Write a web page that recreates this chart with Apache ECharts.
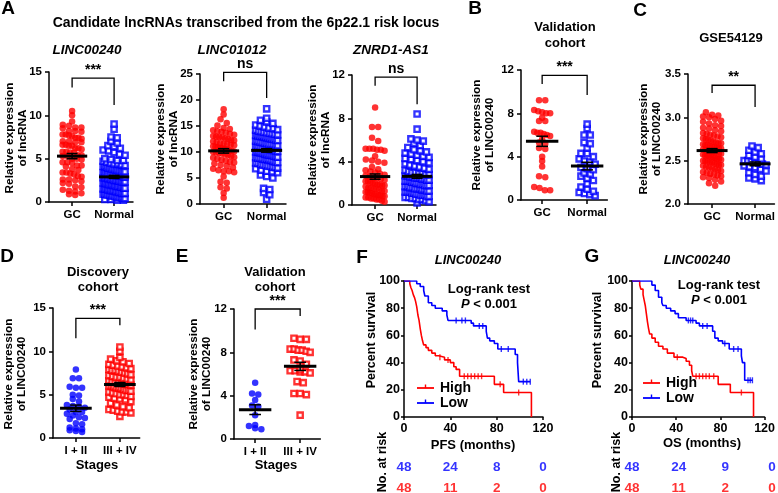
<!DOCTYPE html>
<html>
<head>
<meta charset="utf-8">
<script src="https://cdn.jsdelivr.net/npm/echarts@6/dist/echarts.min.js"></script>
<style>
  html, body { margin: 0; padding: 0; background: #fff; }
  #chart { width: 778px; height: 493px; }
</style>
</head>
<body>
<div id="chart"></div>
<script>
// ---------- data ----------
const catsTumor = ["GC", "Normal"];
const catsStage = ["I + II", "III + IV"];

// A: LINC00240
const a1Gc = [10.5, 10.0, 9.3, 8.9, 8.8, 8.6, 8.6, 8.5, 8.2, 8.2, 8.1, 7.8, 7.8, 7.7, 7.6, 7.4, 7.4, 7.3, 7.0, 7.0, 6.9, 6.9, 6.6, 6.6, 6.5, 6.5, 6.2, 6.2, 6.1, 5.8, 5.8, 5.7, 5.7, 5.4, 5.4, 5.3, 5.3, 5.0, 5.0, 4.9, 4.6, 4.6, 4.5, 4.2, 4.2, 4.1, 3.8, 3.7, 3.4, 3.4, 3.3, 3.2, 3.0, 2.9, 2.6, 2.6, 2.5, 2.4, 2.2, 2.1, 1.8, 1.7, 1.4, 1.3, 1.2, 1.0, 0.9, 0.8];
const a1Normal = [9.0, 8.4, 7.5, 7.4, 7.0, 6.8, 6.5, 6.4, 6.2, 6.0, 5.9, 5.7, 5.5, 5.4,
  5.0, 4.9, 4.8, 4.8, 4.7, 4.6, 4.5, 4.4, 4.4, 4.3, 4.2, 4.1, 4.1, 4.0,
  3.9, 3.9, 3.8, 3.8, 3.7, 3.7, 3.6, 3.6, 3.5, 3.5, 3.5, 3.4, 3.4, 3.3, 3.3, 3.2, 3.2, 3.2, 3.1, 3.1, 3.0, 3.0, 3.0, 3.0,
  2.9, 2.9, 2.8, 2.8, 2.8, 2.7, 2.7, 2.6, 2.6, 2.5, 2.5, 2.5, 2.4, 2.4, 2.3, 2.3, 2.3, 2.2, 2.2, 2.1, 2.1, 2.0, 2.0, 2.0,
  1.9, 1.9, 1.8, 1.8, 1.8, 1.7, 1.7, 1.6, 1.6, 1.5, 1.5, 1.5, 1.4, 1.4, 1.3, 1.3, 1.3, 1.2, 1.2, 1.1, 1.1, 1.0, 1.0, 1.0,
  0.9, 0.9, 0.8, 0.8, 0.8, 0.7, 0.7, 0.6, 0.6, 0.5, 0.5, 0.5, 0.4, 0.4, 0.3, 0.3, 0.2, 0.2];
const a1Bracket = [13.2, 14.3, 11.2];

// A: LINC01012
const a2Gc = [18.2, 17.2, 16.3, 15.6, 15.1, 14.6, 14.4, 14.2, 14.0, 13.9, 13.7, 13.5, 13.3, 13.1, 13.0, 12.9, 12.8, 12.6, 12.5, 12.3, 12.2, 12.0, 11.9, 11.7, 11.6, 11.5, 11.4, 11.3, 11.1, 11.0, 10.9, 10.8, 10.7, 10.6, 10.5, 10.3, 10.2, 10.1, 10.0, 9.9, 9.8, 9.7, 9.5, 9.4, 9.2, 9.0, 8.9, 8.7, 8.5, 8.3, 8.1, 8.0, 7.8, 7.5, 7.3, 7.0, 6.8, 6.5, 6.3, 6.3, 6.1, 5.3, 4.3, 4.1, 3.2, 3.0, 2.1, 1.2];
const a2Normal = [18.3, 16.5, 16.1, 15.8, 15.5, 15.2, 15.0, 14.8, 14.6, 14.5,
  14.3, 14.2, 14.0, 13.9, 13.8, 13.7, 13.6, 13.5, 13.4, 13.3, 13.2, 13.1, 13.0, 13.0,
  12.9, 12.8, 12.7, 12.6, 12.5, 12.4, 12.3, 12.2, 12.1, 12.0, 11.9, 11.8, 11.7, 11.6, 11.5, 11.5,
  11.4, 11.3, 11.2, 11.1, 11.0, 10.9, 10.8, 10.7, 10.6, 10.5, 10.4, 10.3, 10.2, 10.1, 10.0, 10.0,
  9.9, 9.8, 9.7, 9.6, 9.5, 9.4, 9.4, 9.3, 9.2, 9.1, 9.0, 8.9, 8.8, 8.8, 8.7, 8.6, 8.6, 8.5,
  8.4, 8.2, 8.1, 8.0, 7.9, 7.8, 7.6, 7.5, 7.4, 7.3, 7.2, 7.1, 7.0, 6.9,
  6.8, 6.5, 6.3, 6.2, 6.0, 5.6, 5.3, 5.0, 3.0, 2.8, 2.2, 1.8, 0.9];
const a2Bracket = [23.6, 25.3, 20.4];

// A: ZNRD1-AS1
const a3Gc = [9.0, 7.2, 7.2, 6.2, 5.9, 5.2, 5.2, 5.2, 5.1, 5.1, 5.0, 4.5, 4.2, 4.1, 4.0, 3.9, 3.5, 3.3, 3.2, 3.1, 3.0, 2.9, 2.8, 2.7, 2.6, 2.5, 2.5, 2.4, 2.3, 2.2, 2.2, 2.1, 2.0, 2.0, 1.9, 1.9, 1.8, 1.8, 1.7, 1.6, 1.6, 1.5, 1.5, 1.4, 1.3, 1.3, 1.2, 1.2, 1.1, 1.1, 1.0, 1.0, 0.9, 0.9, 0.8, 0.8, 0.7, 0.7, 0.6, 0.6, 0.5, 0.5, 0.4, 0.3];
const a3Normal = [8.4, 7.0, 6.1, 6.0, 5.9, 5.7, 5.5, 5.3, 5.1, 5.0, 4.9, 4.8, 4.7, 4.6, 4.5,
  4.4, 4.3, 4.2, 4.1, 4.0, 3.9, 3.8, 3.7, 3.6, 3.5, 3.4, 3.3, 3.2, 3.1, 3.0, 3.0,
  2.9, 2.9, 2.8, 2.8, 2.7, 2.7, 2.6, 2.6, 2.5, 2.5, 2.5, 2.4, 2.4, 2.3, 2.3, 2.2, 2.2, 2.2, 2.1, 2.1, 2.0, 2.0,
  1.9, 1.9, 1.8, 1.8, 1.8, 1.7, 1.7, 1.6, 1.6, 1.5, 1.5, 1.5, 1.4, 1.4, 1.3, 1.3, 1.2, 1.2, 1.2, 1.1, 1.1, 1.0, 1.0,
  0.9, 0.9, 0.9, 0.8, 0.8, 0.7, 0.7, 0.6, 0.6, 0.5, 0.5, 0.4, 0.3, 0.2];
const a3Bracket = [11.0, 11.8, 9.3];

// B: validation cohort
const bGc = [9.2, 9.2, 8.3, 8.2, 8.1, 8.0, 8.0, 7.6, 7.3, 7.3, 6.3, 6.2, 6.2, 6.1, 6.0, 5.9, 5.6, 5.3, 5.2, 4.8, 4.7, 4.0, 3.6, 3.1, 2.2, 2.1, 1.2, 1.1, 0.9, 0.9];
const bNormal = [7.0, 6.6, 6.0, 6.0, 5.3, 5.2, 4.8, 4.3, 4.3, 4.0, 3.8, 3.6, 3.5, 3.3, 3.0, 2.9, 2.8, 2.5, 2.4, 2.2, 2.0, 1.8, 1.5, 1.2, 1.0, 0.8, 0.7, 0.6, 0.5, 0.4];
const bBracket = [10.7, 11.5, 9.7];

// C: GSE54129
const cGc = [3.06, 3.03, 3.02, 3.01, 3.00, 2.98, 2.96, 2.95, 2.93, 2.91, 2.90, 2.88, 2.87, 2.85, 2.84, 2.82, 2.81, 2.80, 2.79, 2.78, 2.77, 2.76, 2.75, 2.74, 2.73, 2.72, 2.71, 2.70, 2.70, 2.69, 2.68, 2.68, 2.67, 2.66, 2.66, 2.65, 2.64, 2.64, 2.63, 2.62, 2.62, 2.61, 2.60, 2.60, 2.59, 2.58, 2.58, 2.57, 2.56, 2.56, 2.55, 2.54, 2.54, 2.53, 2.52, 2.52, 2.51, 2.50, 2.50, 2.49, 2.48, 2.48, 2.47, 2.46, 2.45, 2.45, 2.44, 2.43, 2.42, 2.41, 2.40, 2.39, 2.38, 2.37, 2.36, 2.35, 2.34, 2.33, 2.32, 2.31, 2.30, 2.28, 2.26, 2.24, 2.21];
const cNormal = [2.67, 2.65, 2.62, 2.60, 2.58, 2.56, 2.54, 2.52, 2.50, 2.50, 2.49, 2.48, 2.47, 2.46, 2.45, 2.44, 2.43, 2.42, 2.40, 2.38, 2.36, 2.34, 2.32, 2.30, 2.29, 2.27];
const cBracket = [3.28, 3.37, 3.12];

// D: discovery cohort by stage
const dEarly = [7.9, 6.9, 6.9, 5.9, 5.8, 5.8, 5.0, 4.9, 4.5, 4.2, 3.8, 3.7, 3.6, 3.5, 3.3, 3.0, 3.0, 2.8, 2.6, 2.4, 2.3, 2.2, 1.7, 1.6, 1.2, 1.1, 1.0, 0.9, 0.8, 0.7];
const dLate = [10.5, 10.0, 9.3, 9.1, 8.9, 8.8, 8.6, 8.5, 8.4, 8.3, 8.2, 8.1, 8.0, 7.9, 7.8, 7.8, 7.7, 7.6, 7.5, 7.4, 7.3, 7.2, 7.1, 7.0, 7.0, 6.9, 6.8, 6.7, 6.6, 6.5, 6.5, 6.4, 6.3, 6.2, 6.2, 6.1, 6.0, 6.0, 5.9, 5.8, 5.8, 5.7, 5.6, 5.5, 5.5, 5.4, 5.3, 5.2, 5.1, 5.0, 5.0, 4.9, 4.8, 4.7, 4.6, 4.5, 4.4, 4.2, 4.0, 3.8, 3.6, 3.5, 3.3, 3.2, 3.1, 3.0, 3.0, 2.9, 2.5];
const dBracket = [11.5, 13.8, 13.0];

// E: validation cohort by stage
const eEarly = [5.2, 4.2, 4.1, 3.6, 3.1, 3.0, 2.2, 1.3, 1.2, 1.0, 0.9];
const eLate = [9.3, 9.2, 9.2, 8.3, 8.3, 8.2, 8.2, 8.1, 8.0, 7.3, 7.2, 6.9, 6.4, 6.3, 6.3, 6.2, 6.2, 6.1, 5.3, 5.2, 4.2, 4.2, 4.1, 2.2];
const eBracket = [10.1, 12.0, 11.35];

// F: PFS Kaplan-Meier [months, % survival]
const fHigh = [[0,100],[5,98],[6,95],[7,93],[8,90],[9,88],[10,85],[11,81],[12,75],[13,71],[14,65],[15,60],[16,56],[17,53],[19,51],[21,49],[24,47],[27,45],[30,44],[35,42],[40,40],[43,37],[45,35],[48,30],[78,24],[86,18],[110,0]];
const fLow = [[0,100],[11,98],[14,96],[17,93],[18,89],[21,84],[24,82],[27,80],[33,78],[37,75],[38,71],[58,69],[60,67],[71,63],[72,58],[74,56],[78,54],[81,50],[96,46],[98,40],[99,26],[109,26]];
const fHighCensor = [[31,44],[38,42],[52,30],[55,30],[58,30],[61,30],[64,30],[67,30],[83,24],[99,18]];
const fLowCensor = [[45,71],[50,71],[53,71],[65,67],[68,67],[84,50],[90,50],[103,26],[106,26],[109,26]];

// G: OS Kaplan-Meier
const gHigh = [[0,100],[7,97],[8,94],[10,90],[11,86],[12,82],[13,76],[14,70],[15,65],[16,61],[18,58],[21,55],[24,52],[28,50],[32,47],[38,44],[46,43],[49,41],[52,38],[54,34],[55,30],[78,24],[89,18],[110,0]];
const gLow = [[0,100],[18,97],[21,93],[24,88],[27,84],[28,82],[31,80],[35,78],[39,76],[42,73],[49,71],[58,69],[61,67],[73,63],[75,58],[78,56],[82,54],[88,50],[99,45],[100,40],[102,27],[109,27]];
const gHighCensor = [[41,44],[58,30],[61,30],[64,30],[67,30],[70,30],[74,30],[99,18]];
const gLowCensor = [[51,71],[53,71],[55,71],[64,67],[68,67],[84,54],[92,50],[96,50],[105,27],[107,27],[109,27]];

// numbers at risk
const riskTimes = [0, 40, 80, 120];
const fRiskLow = [48, 24, 8, 0];
const fRiskHigh = [48, 11, 2, 0];
const gRiskLow = [48, 24, 9, 0];
const gRiskHigh = [48, 11, 2, 0];

// ---------- build ----------
const RED = "#ff0000";
const BLUE = "#0000ff";
const FONT = "Liberation Sans, Arial, sans-serif";

const grids = [], xAxes = [], yAxes = [], series = [];

function mean(a) { return a.reduce((s, v) => s + v, 0) / a.length; }
function sem(a) {
  const m = mean(a);
  const sd = Math.sqrt(a.reduce((s, v) => s + (v - m) * (v - m), 0) / (a.length - 1));
  return sd / Math.sqrt(a.length);
}

// spread points of similar value side by side (scatter dot plot layout)
function swarm(values, center, pxY, pxX, rowPx, stepPx, maxHalfPx) {
  const rows = {};
  values.forEach(v => {
    const r = Math.round(v * pxY / rowPx);
    (rows[r] = rows[r] || []).push(v);
  });
  const out = [];
  Object.keys(rows).forEach(k => {
    const list = rows[k];
    const n = list.length;
    let step = stepPx;
    if (n > 1 && (n - 1) * step / 2 > maxHalfPx) step = 2 * maxHalfPx / (n - 1);
    list.forEach((v, i) => out.push([center + (i - (n - 1) / 2) * step / pxX, v]));
  });
  return out;
}

const axisLineStyle = { color: "#000", width: 1.5 };
const labelStyle = { color: "#000", fontFamily: FONT, fontWeight: "bold", fontSize: 11.5 };

function addDotPanel(p) {
  const idx = grids.length;
  const w = (p.xmax - p.xmin) * p.unit;
  grids.push({ left: p.left, top: p.top, width: w, height: p.h });
  xAxes.push({
    gridIndex: idx, type: "value", min: p.xmin, max: p.xmax,
    splitLine: { show: false },
    axisLine: { show: true, onZero: false, lineStyle: axisLineStyle },
    axisTick: { show: true, customValues: [1, 2], length: 4, lineStyle: axisLineStyle },
    axisLabel: Object.assign({ customValues: [1, 2], margin: 7,
      formatter: v => p.cats[Math.round(v) - 1] || "" }, labelStyle)
  });
  yAxes.push({
    gridIndex: idx, type: "value", min: p.ymin, max: p.ymax, interval: p.step,
    splitLine: { show: false },
    axisLine: { show: true, onZero: false, lineStyle: axisLineStyle },
    axisTick: { show: true, length: 4, lineStyle: axisLineStyle },
    axisLabel: Object.assign({ margin: 7, formatter: p.fmt || (v => String(v)) }, labelStyle)
  });
  const pxY = p.h / (p.ymax - p.ymin);
  p.groups.forEach((vals, j) => {
    const box = p.shapes[j] === "box";
    series.push({
      type: "scatter", xAxisIndex: idx, yAxisIndex: idx, silent: true,
      data: swarm(vals, j + 1, pxY, p.unit, 5.5, 6.2, p.halves[j]),
      symbol: box ? "rect" : "circle",
      symbolSize: box ? 5.3 : 6.5,
      itemStyle: box ? { color: "#fff", borderColor: p.colors[j], borderWidth: 2.3 }
                     : { color: p.colors[j] }
    });
  });
  // mean with SEM
  series.push({
    type: "custom", xAxisIndex: idx, yAxisIndex: idx, silent: true, z: 5,
    data: p.groups.map((g, j) => [j + 1, mean(g), sem(g)]),
    renderItem: (params, api) => {
      const c = api.value(0), m = api.value(1), s = api.value(2);
      const seg = (x1, y1, x2, y2, lw) => {
        const a = api.coord([x1, y1]), b = api.coord([x2, y2]);
        return { type: "line", shape: { x1: a[0], y1: a[1], x2: b[0], y2: b[1] },
          style: { stroke: "#000", lineWidth: lw } };
      };
      return { type: "group", children: [
        seg(c - 0.36, m, c + 0.36, m, 3),
        seg(c, m - s, c, m + s, 1.5),
        seg(c - 0.13, m + s, c + 0.13, m + s, 1.5),
        seg(c - 0.13, m - s, c + 0.13, m - s, 1.5)
      ] };
    }
  });
  // significance bracket
  series.push({
    type: "custom", xAxisIndex: idx, yAxisIndex: idx, silent: true, z: 6,
    data: [[p.bracket[0], p.bracket[1], p.bracket[2]]],
    renderItem: (params, api) => {
      const l = api.coord([1, api.value(0)]), tl = api.coord([1, api.value(1)]);
      const tr = api.coord([2, api.value(1)]), r = api.coord([2, api.value(2)]);
      return { type: "group", children: [
        { type: "polyline", shape: { points: [l, tl, tr, r] },
          style: { stroke: "#000", lineWidth: 1.3, fill: null } },
        { type: "text", x: (tl[0] + tr[0]) / 2, y: tl[1] - 1,
          style: { text: p.sig, fill: "#000", fontFamily: FONT, fontWeight: "bold",
            fontSize: 14, align: "center", verticalAlign: "bottom",
            textAlign: "center", textVerticalAlign: "bottom" } }
      ] };
    }
  });
}

function addKmPanel(p) {
  const idx = grids.length;
  grids.push({ left: p.left, top: p.top, width: p.w, height: p.h });
  const kmLabel = { color: "#000", fontFamily: FONT, fontWeight: "bold", fontSize: 12.5 };
  xAxes.push({
    gridIndex: idx, type: "value", min: 0, max: 120, interval: 40,
    splitLine: { show: false },
    axisLine: { show: true, lineStyle: axisLineStyle },
    axisTick: { show: true, length: 3, lineStyle: axisLineStyle },
    axisLabel: Object.assign({ margin: 5 }, kmLabel)
  });
  yAxes.push({
    gridIndex: idx, type: "value", min: 0, max: 100, interval: 20,
    splitLine: { show: false },
    axisLine: { show: true, lineStyle: axisLineStyle },
    axisTick: { show: true, length: 3, lineStyle: axisLineStyle },
    axisLabel: Object.assign({ margin: 4 }, kmLabel)
  });
  [[p.high, RED], [p.low, BLUE]].forEach(([d, col]) => {
    series.push({ type: "line", xAxisIndex: idx, yAxisIndex: idx, step: "end", data: d,
      showSymbol: false, silent: true, lineStyle: { color: col, width: 1.6 }, itemStyle: { color: col } });
  });
  [[p.highCensor, RED], [p.lowCensor, BLUE]].forEach(([d, col]) => {
    series.push({ type: "scatter", xAxisIndex: idx, yAxisIndex: idx, data: d, silent: true,
      symbol: "rect", symbolSize: [1.4, 6], itemStyle: { color: col } });
  });
  // numbers at risk table, on its own hidden grid sharing the time scale
  const r = grids.length;
  grids.push({ left: p.left, top: p.riskTop, width: p.w, height: 21 });
  xAxes.push({ gridIndex: r, type: "value", min: 0, max: 120, show: false });
  yAxes.push({ gridIndex: r, type: "value", min: 0, max: 1, show: false });
  [[p.riskLow, 1, BLUE], [p.riskHigh, 0, RED]].forEach(([vals, row, col]) => {
    series.push({
      type: "scatter", xAxisIndex: r, yAxisIndex: r, silent: true,
      data: riskTimes.map((t, i) => [t, row, vals[i]]),
      symbolSize: 1, itemStyle: { color: "rgba(0,0,0,0)" },
      label: { show: true, position: "inside", formatter: d => d.value[2],
        color: col, fontFamily: FONT, fontWeight: "bold", fontSize: 13.5 }
    });
  });
}

addDotPanel({ left: 49, top: 72, h: 130, unit: 42, xmin: 0.45, xmax: 2.45, ymin: 0, ymax: 15, step: 5,
  cats: catsTumor, groups: [a1Gc, a1Normal], shapes: ["dot", "box"], colors: [RED, BLUE], halves: [9.5, 11], bracket: a1Bracket, sig: "***" });
addDotPanel({ left: 200, top: 74, h: 130, unit: 43, xmin: 0.45, xmax: 2.45, ymin: 0, ymax: 25, step: 5,
  cats: catsTumor, groups: [a2Gc, a2Normal], shapes: ["dot", "box"], colors: [RED, BLUE], halves: [10.5, 11], bracket: a2Bracket, sig: "ns" });
addDotPanel({ left: 352, top: 75, h: 130, unit: 42, xmin: 0.45, xmax: 2.45, ymin: 0, ymax: 12, step: 4,
  cats: catsTumor, groups: [a3Gc, a3Normal], shapes: ["dot", "box"], colors: [RED, BLUE], halves: [9.5, 12], bracket: a3Bracket, sig: "ns" });
addDotPanel({ left: 521, top: 70, h: 130, unit: 45, xmin: 0.53, xmax: 2.45, ymin: 0, ymax: 12, step: 4,
  cats: catsTumor, groups: [bGc, bNormal], shapes: ["dot", "box"], colors: [RED, BLUE], halves: [8, 8], bracket: bBracket, sig: "***" });
addDotPanel({ left: 688, top: 74, h: 130, unit: 43, xmin: 0.44, xmax: 2.45, ymin: 2, ymax: 3.5, step: 0.5,
  fmt: v => v.toFixed(1),
  cats: catsTumor, groups: [cGc, cNormal], shapes: ["dot", "box"], colors: [RED, BLUE], halves: [9, 11], bracket: cBracket, sig: "**" });
addDotPanel({ left: 53, top: 308, h: 130, unit: 44, xmin: 0.48, xmax: 2.45, ymin: 0, ymax: 15, step: 5,
  cats: catsStage, groups: [dEarly, dLate], shapes: ["dot", "box"], colors: [BLUE, RED], halves: [9, 11], bracket: dBracket, sig: "***" });
addDotPanel({ left: 234, top: 309, h: 130, unit: 45, xmin: 0.53, xmax: 2.45, ymin: 0, ymax: 12, step: 4,
  cats: catsStage, groups: [eEarly, eLate], shapes: ["dot", "box"], colors: [BLUE, RED], halves: [9, 10], bracket: eBracket, sig: "***" });

addKmPanel({ left: 404, top: 281, w: 139, h: 136, riskTop: 467,
  high: fHigh, low: fLow, highCensor: fHighCensor, lowCensor: fLowCensor, riskLow: fRiskLow, riskHigh: fRiskHigh });
addKmPanel({ left: 632, top: 281, w: 140, h: 136, riskTop: 467,
  high: gHigh, low: gLow, highCensor: gHighCensor, lowCensor: gLowCensor, riskLow: gRiskLow, riskHigh: gRiskHigh });

// ---------- text ----------
function txt(text, x, y, size, style, rotation) {
  return {
    type: "text", x: x, y: y, rotation: rotation || 0, silent: true,
    style: Object.assign({ text: text, fill: "#000", fontFamily: FONT, fontWeight: "bold", fontSize: size,
      align: "center", verticalAlign: "middle", textAlign: "center", textVerticalAlign: "middle" }, style || {})
  };
}
const ROT = Math.PI / 2;
const ital = { fontStyle: "italic" };
function legendItem(x, y, col, label) {
  return [
    { type: "line", silent: true, shape: { x1: x, y1: y, x2: x + 17, y2: y }, style: { stroke: col, lineWidth: 1.8 } },
    { type: "line", silent: true, shape: { x1: x + 8.5, y1: y - 3.5, x2: x + 8.5, y2: y }, style: { stroke: col, lineWidth: 1.4 } },
    txt(label, x + 23, y, 14, { align: "left", textAlign: "left" })
  ];
}
const pRich = { text: "{i|P} < 0.001", rich: { i: { fontStyle: "italic", fontWeight: "bold", fontSize: 13, fontFamily: FONT } } };

const graphics = [
  txt("A", 8, 9, 19), txt("B", 475, 9, 19), txt("C", 640, 11, 19),
  txt("D", 7, 257, 19), txt("E", 182, 257, 19), txt("F", 362, 258, 19), txt("G", 592, 257, 19),
  txt("Candidate lncRNAs transcribed from the 6p22.1 risk locus", 246, 23, 14),
  txt("LINC00240", 87, 50, 13.5, ital), txt("LINC01012", 232, 50, 13.5, ital), txt("ZNRD1-AS1", 391, 50, 13.5, ital),
  txt("Validation\ncohort", 565, 35, 13, { lineHeight: 16 }),
  txt("GSE54129", 731, 38, 13),
  txt("Discovery\ncohort", 98, 280, 13, { lineHeight: 15 }),
  txt("Validation\ncohort", 275, 280, 13, { lineHeight: 15 }),
  txt("Relative expression\nof lncRNA", 16, 138, 11.8, { lineHeight: 13 }, ROT),
  txt("Relative expression\nof lncRNA", 167, 139, 11.8, { lineHeight: 13 }, ROT),
  txt("Relative expression\nof lncRNA", 319, 140, 11.8, { lineHeight: 13 }, ROT),
  txt("Relative expression\nof LINC00240", 483, 135, 11.8, { lineHeight: 13 }, ROT),
  txt("Relative expression\nof LINC00240", 650, 139, 11.8, { lineHeight: 13 }, ROT),
  txt("Relative expression\nof LINC00240", 15, 374, 11.8, { lineHeight: 13 }, ROT),
  txt("Relative expression\nof LINC00240", 200, 374, 11.8, { lineHeight: 13 }, ROT),
  txt("Stages", 97, 465, 13), txt("Stages", 276, 465, 13),
  txt("LINC00240", 468, 260, 13, ital), txt("LINC00240", 697, 260, 13, ital),
  txt("Percent survival", 372, 340, 12.5, null, ROT), txt("Percent survival", 598, 340, 12.5, null, ROT),
  txt("PFS (months)", 473, 445, 13), txt("OS (months)", 702, 443, 13),
  txt("No. at risk", 383, 462, 12.5, null, ROT), txt("No. at risk", 617, 462, 12.5, null, ROT),
  txt("Log-rank test", 489, 289, 13), txt("Log-rank test", 719, 285, 13),
  txt("", 489, 304, 13, pRich), txt("", 719, 300, 13, pRich)
].concat(
  legendItem(417, 388, RED, "High"), legendItem(417, 403, BLUE, "Low"),
  legendItem(643, 383, RED, "High"), legendItem(643, 398, BLUE, "Low")
);

const chart = echarts.init(document.getElementById("chart"), null, { renderer: "canvas" });
chart.setOption({
  animation: false,
  backgroundColor: "#fff",
  grid: grids,
  xAxis: xAxes,
  yAxis: yAxes,
  series: series,
  graphic: { elements: graphics }
});
</script>
</body>
</html>
